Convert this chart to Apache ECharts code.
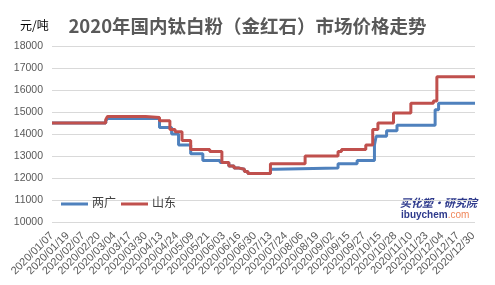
<!DOCTYPE html>
<html>
<head>
<meta charset="utf-8">
<script src="https://cdn.jsdelivr.net/npm/echarts@6/dist/echarts.min.js"></script>
<style>
html,body{margin:0;padding:0;background:#fff;}
#chart{width:495px;height:285px;}
</style>
</head>
<body>
<div id="chart"></div>
<script>
// Tick labels shown on the x axis (one every 9 trading days)
const tickLabels = ['2020/01/07','2020/01/19','2020/02/07','2020/02/20','2020/03/04','2020/03/17','2020/03/30',
  '2020/04/13','2020/04/24','2020/05/09','2020/05/21','2020/06/03','2020/06/16','2020/06/30',
  '2020/07/13','2020/07/24','2020/08/06','2020/08/19','2020/09/02','2020/09/15','2020/09/27',
  '2020/10/15','2020/10/28','2020/11/10','2020/11/23','2020/12/04','2020/12/17','2020/12/30'];
const labelStep = 9;          // trading days between tick labels
const lastDayIndex = 244;     // index of the last trading day

// Price change points: [trading-day index, price (元/吨)]
const liangguang = [[0,14500],[31,14600],[32,14700],[62,14300],[69,14000],[73,13500],[80,13100],
  [87,12800],[97,12700],[102,12550],[105,12450],[108,12400],[111,12300],[113,12200],[126,12400],
  [129,12450],[165,12650],[176,12800],[186,13500],[187,13900],[193,14150],[199,14400],[221,15100],
  [223,15400],[244,15400]];
const shandong = [[0,14500],[31,14650],[32,14800],[54,14750],[62,14600],[68,14200],[71,14100],
  [75,13700],[80,13300],[91,13200],[98,12700],[102,12550],[105,12450],[108,12400],[111,12300],
  [113,12200],[126,12650],[146,13000],[165,13200],[167,13300],[181,13500],[185,14200],[188,14500],
  [197,14950],[207,15400],[220,15500],[222,16600],[244,16600]];

const seriesNames = ['两广','山东'];
const seriesColors = ['#4f81bd','#c0504d'];
const FONT = '"Liberation Sans","Noto Sans CJK SC",sans-serif';

const chart = echarts.init(document.getElementById('chart'), null, {renderer:'canvas'});
chart.setOption({
  animation:false,
  backgroundColor:'#fff',
  title:{
    text:'2020年国内钛白粉（金红石）市场价格走势',
    left:'center', top:12,
    textStyle:{fontSize:18.5, fontWeight:'bold', color:'#595959', fontFamily:'"Noto Sans CJK SC",sans-serif'}
  },
  graphic:[
    {type:'text', left:20, top:19, style:{text:'元/吨', fontSize:12, fill:'#000', fontFamily:'"Noto Sans CJK SC",sans-serif'}},
    {type:'text', left:400, top:197, style:{text:'买化塑·研究院', fontSize:11, fontWeight:'bold', fontStyle:'italic', fill:'#2e3a8c', fontFamily:'"Noto Sans CJK SC",sans-serif'}},
    {type:'text', left:401, top:210, style:{
      text:'{a|ibuychem}{b|.com}',
      rich:{a:{fontSize:10, fill:'#2e3a8c', fontWeight:'bold', fontFamily:FONT},
            b:{fontSize:10, fill:'#f0875a', fontFamily:FONT}}
    }}
  ],
  legend:{
    left:56, top:193,
    itemWidth:27, itemHeight:3, itemGap:5,
    icon:'rect',
    textStyle:{fontSize:12, color:'#404040', fontFamily:FONT, padding:[0,0,0,-1]},
    data:seriesNames
  },
  grid:{left:52, right:20, top:46, bottom:63, containLabel:false},
  xAxis:{
    type:'value', min:0, max:lastDayIndex, interval:labelStep,
    axisLine:{show:false}, axisTick:{show:false}, splitLine:{show:false},
    axisLabel:{
      rotate:45, margin:12, fontSize:11, color:'#595959', fontFamily:FONT,
      showMaxLabel:true,
      formatter:function(v){
        const k = Math.round(v);
        if (k % labelStep !== 0) return '';
        const i = k / labelStep;
        return i < tickLabels.length ? tickLabels[i] : '';
      }
    }
  },
  yAxis:{
    type:'value', min:10000, max:18000, interval:1000,
    axisLine:{show:false}, axisTick:{show:false},
    splitLine:{lineStyle:{color:'#d9d9d9', width:1}},
    axisLabel:{fontSize:10.5, color:'#595959', margin:9, fontFamily:FONT,
      formatter:function(v){ return String(v); }}
  },
  series:[
    {name:seriesNames[0], type:'line', step:'end', data:liangguang, showSymbol:false, symbol:'none',
     lineStyle:{width:3, color:seriesColors[0]}, itemStyle:{color:seriesColors[0]}},
    {name:seriesNames[1], type:'line', step:'end', data:shandong, showSymbol:false, symbol:'none',
     lineStyle:{width:3, color:seriesColors[1]}, itemStyle:{color:seriesColors[1]}}
  ]
});
</script>
</body>
</html>
